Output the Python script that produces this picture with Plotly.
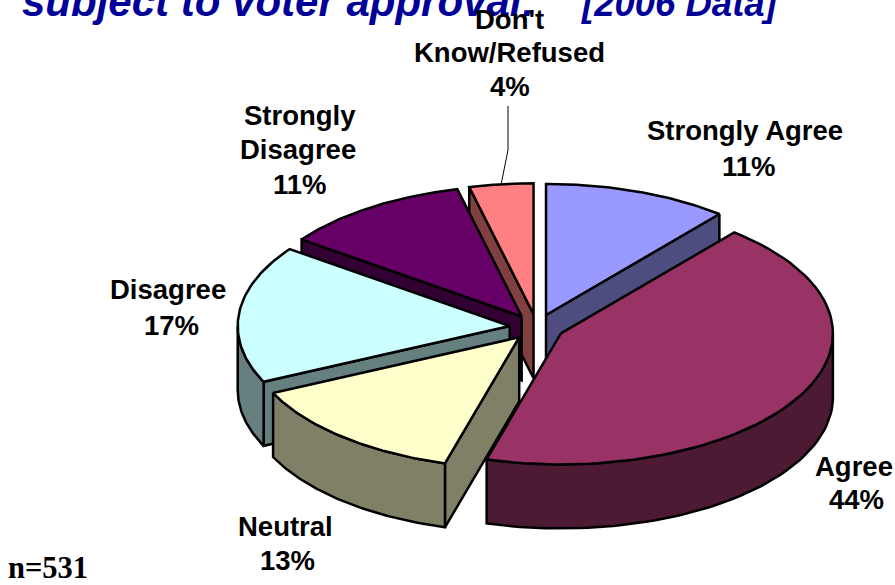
import numpy as np
import plotly.graph_objects as go

# values
categories = ["Strongly Agree", "Agree", "Neutral", "Disagree", "Strongly Disagree", "Don't Know/Refused"]
shares = [11.0, 43.4, 13.6, 17.0, 11.2, 3.8]
top_colors = ["#9999FF", "#993366", "#FFFFCC", "#CCFFFF", "#660066", "#FF8080"]
side_colors = ["#4D4D80", "#4D1A33", "#808066", "#668080", "#330033", "#804040"]

# text lines of the labels: text, x, y (pixels)
label_lines = [
    ("Strongly Agree", 745, 130), ("11%", 749, 166),
    ("Agree", 854, 466), ("44%", 856, 499),
    ("Neutral", 285, 526), ("13%", 287, 560),
    ("Disagree", 168, 289), ("17%", 171, 325),
    ("Strongly", 300, 115), ("Disagree", 298, 149), ("11%", 300, 184),
    ("Don't", 509, 19), ("Know/Refused", 509, 52), ("4%", 510, 86),
]

# pie geometry in page pixels
CX, CY = 536.8, 327.3
RX, RY = 272, 131
DEPTH = 64
EXPLODE = 0.1
DRAW_ORDER = [0, 5, 4, 3, 2, 1]  # back to front


def pt(t, apex, r=1.0, dy=0.0):
    return apex[0] + r * RX * np.sin(t), apex[1] - r * RY * np.cos(t) + dy


def add_poly(fig, xs, ys, color):
    fig.add_trace(go.Scatter(x=list(xs), y=list(ys), mode="lines", fill="toself", fillcolor=color,
                             line=dict(color="black", width=2.5), hoverinfo="skip"))


fig = go.Figure()

edges = np.radians(np.concatenate([[0], np.cumsum(shares)]) * 3.6)

for i in DRAW_ORDER:
    t0, t1 = edges[i], edges[i + 1]
    mid = (t0 + t1) / 2
    apex = pt(mid, (CX, CY), EXPLODE)

    # cut faces that look towards the viewer
    for t, visible in ((t0, np.sin(t0) < 0), (t1, np.sin(t1) > 0)):
        if visible:
            ox, oy = pt(t, apex)
            add_poly(fig, [apex[0], ox, ox, apex[0], apex[0]],
                     [apex[1], oy, oy + DEPTH, apex[1] + DEPTH, apex[1]], side_colors[i])

    # outer rim, front half of the disc only
    a, b = max(t0, np.pi / 2), min(t1, 3 * np.pi / 2)
    if a < b:
        ts = np.linspace(a, b, 60)
        ux, uy = pt(ts, apex)
        lx, ly = pt(ts[::-1], apex, dy=DEPTH)
        add_poly(fig, np.r_[ux, lx, ux[0]], np.r_[uy, ly, uy[0]], side_colors[i])

    # top of the slice
    ts = np.linspace(t0, t1, 80)
    rx, ry = pt(ts, apex)
    add_poly(fig, np.r_[apex[0], rx, apex[0]], np.r_[apex[1], ry, apex[1]], top_colors[i])

# leader line of the last slice
t_dk = (edges[5] + edges[6]) / 2
lx, ly = pt(t_dk, pt(t_dk, (CX, CY), EXPLODE))
fig.add_trace(go.Scatter(x=[508, 508, lx], y=[106, 150, ly], mode="lines",
                         line=dict(color="black", width=1), hoverinfo="skip"))

fig.add_annotation(x=20, y=27, text="<b><i>subject to voter approval:</i></b>", showarrow=False,
                   xanchor="left", yanchor="bottom", font=dict(family="Liberation Sans", size=42, color="#000099"))
fig.add_annotation(x=579, y=26, text="<b><i>[2006 Data]</i></b>", showarrow=False,
                   xanchor="left", yanchor="bottom", font=dict(family="Liberation Sans", size=36.5, color="#000099"))

for text, x, y in label_lines:
    fig.add_annotation(x=x, y=y, text=f"<b>{text}</b>", showarrow=False, xanchor="center", yanchor="middle",
                       font=dict(family="Liberation Sans", size=27.5, color="black"))

fig.add_annotation(x=6, y=568, text="<b>n=531</b>", showarrow=False, xanchor="left", yanchor="middle",
                   font=dict(family="Liberation Serif", size=30.5, color="black"))

fig.update_xaxes(range=[0, 895], visible=False, fixedrange=True)
fig.update_yaxes(range=[585, 0], visible=False, fixedrange=True)
fig.update_layout(width=895, height=585, margin=dict(l=0, r=0, t=0, b=0), showlegend=False,
                  paper_bgcolor="white", plot_bgcolor="white")

fig.write_html("out.html", config=dict(displayModeBar=False),
               post_script="document.body.style.margin='0';")
